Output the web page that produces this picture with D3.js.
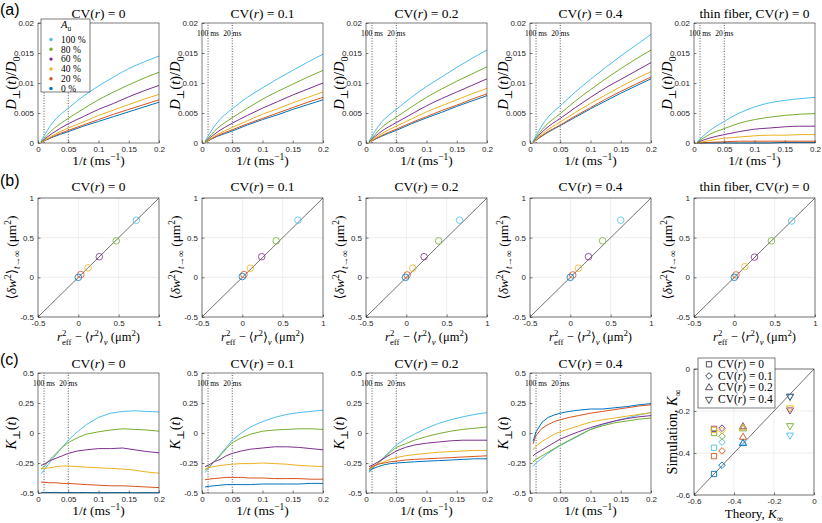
<!DOCTYPE html>
<html><head><meta charset="utf-8">
<script src="https://cdn.jsdelivr.net/npm/d3@7"></script>
<style>body{margin:0;background:#fff}svg{display:block}
.serif{font-family:"Liberation Serif","DejaVu Serif",serif;font-weight:normal}
.sans{font-family:"Liberation Sans","DejaVu Sans",sans-serif;font-weight:normal}
</style>
</head><body><script>
// ---------- data ----------
const seriesNames = ["100 %","80 %","60 %","40 %","20 %","0 %"];
const seriesColors = ["#4DBEEE","#77AC30","#7E2F8E","#EDB120","#D95319","#0072BD"];
const cvTitles = ["CV(r) = 0","CV(r) = 0.1","CV(r) = 0.2","CV(r) = 0.4","thin fiber, CV(r) = 0"];
const xTicksT = [0,0.05,0.1,0.15,0.2];
const yTicksD = [0,0.005,0.01,0.015,0.02];
const ticksB = [-0.5,0,0.5,1];
const yTicksK = [-0.5,-0.25,0,0.25,0.5];
const ticksKinf = [-0.6,-0.4,-0.2,0];
const markerTimes = [0.01,0.05];
const markerLabels = ["100 ms","20 ms"];

// (a) D_perp(t)/D0 vs 1/t
const xD = [0.005,0.025,0.05,0.075,0.1,0.125,0.15,0.175,0.2];
const dCV0 = [
  [0.0003,0.0035,0.0058,0.0078,0.0095,0.0110,0.0124,0.0135,0.0145],
  [0.0002,0.0023,0.0041,0.0057,0.0072,0.0085,0.0097,0.0108,0.0118],
  [0.0002,0.0017,0.0032,0.0044,0.0056,0.0066,0.0077,0.0087,0.0096],
  [0.0001,0.0013,0.0025,0.0035,0.0046,0.0055,0.0064,0.0073,0.0081],
  [0.0001,0.0011,0.0021,0.0030,0.0039,0.0048,0.0056,0.0064,0.0072],
  [0.0001,0.0010,0.0019,0.0028,0.0036,0.0044,0.0052,0.0060,0.0068]];
const dCV01 = [
  [0.0003,0.0034,0.0057,0.0076,0.0092,0.0107,0.0121,0.0135,0.0148],
  [0.0002,0.0024,0.0042,0.0058,0.0073,0.0086,0.0098,0.0110,0.0121],
  [0.0002,0.0018,0.0033,0.0046,0.0058,0.0069,0.0080,0.0090,0.0100],
  [0.0001,0.0014,0.0026,0.0037,0.0048,0.0057,0.0067,0.0076,0.0085],
  [0.0001,0.0012,0.0022,0.0032,0.0041,0.0050,0.0059,0.0068,0.0076],
  [0.0001,0.0011,0.0020,0.0030,0.0039,0.0047,0.0056,0.0064,0.0072]];
const dCV02 = [
  [0.0003,0.0034,0.0056,0.0076,0.0094,0.0110,0.0126,0.0141,0.0155],
  [0.0002,0.0025,0.0043,0.0060,0.0076,0.0090,0.0103,0.0115,0.0127],
  [0.0002,0.0019,0.0034,0.0048,0.0062,0.0074,0.0085,0.0096,0.0107],
  [0.0001,0.0015,0.0028,0.0040,0.0052,0.0062,0.0072,0.0082,0.0091],
  [0.0001,0.0012,0.0023,0.0034,0.0044,0.0054,0.0063,0.0073,0.0082],
  [0.0001,0.0011,0.0021,0.0032,0.0042,0.0051,0.0061,0.0070,0.0079]];
const dCV04 = [
  [0.0003,0.0037,0.0062,0.0085,0.0106,0.0126,0.0145,0.0163,0.0181],
  [0.0002,0.0028,0.0049,0.0070,0.0089,0.0107,0.0124,0.0140,0.0155],
  [0.0002,0.0023,0.0041,0.0059,0.0076,0.0092,0.0106,0.0120,0.0134],
  [0.0001,0.0019,0.0035,0.0051,0.0066,0.0080,0.0094,0.0107,0.0119],
  [0.0001,0.0016,0.0030,0.0045,0.0059,0.0073,0.0086,0.0098,0.0110],
  [0.0001,0.0015,0.0029,0.0043,0.0057,0.0070,0.0083,0.0095,0.0107]];
const dThin = [
  [0.0002,0.0020,0.0036,0.0050,0.0060,0.0067,0.0071,0.0074,0.0076],
  [0.0001,0.0014,0.0024,0.0033,0.0039,0.0043,0.0046,0.0048,0.0049],
  [0.0001,0.0008,0.0014,0.0019,0.0023,0.0025,0.0027,0.0028,0.0028],
  [0.0000,0.0004,0.0008,0.0010,0.0012,0.0013,0.0013,0.0014,0.0014],
  [0.0000,0.0001,0.0002,0.0003,0.0003,0.0003,0.0003,0.0003,0.0003],
  [0.0000,0.0000,0.0000,0.0000,0.0000,0.0000,0.0001,0.0001,0.0001]];

// (b) <dw^2> vs r_eff^2 - <r^2>_v
const bX_cv0  = [0.72,0.47,0.26,0.12,0.03,0.0];
const bY_cv0  = [0.72,0.46,0.26,0.12,0.035,0.0];
const bX_cv01 = [0.69,0.42,0.24,0.10,0.02,0.0];
const bY_cv01 = [0.72,0.46,0.26,0.115,0.035,0.01];
const bX_cv02 = [0.66,0.40,0.22,0.08,0.01,-0.01];
const bY_cv02 = [0.72,0.46,0.26,0.115,0.03,0.0];
const bX_cv04 = [0.625,0.40,0.225,0.10,0.03,0.0];
const bY_cv04 = [0.72,0.46,0.26,0.115,0.03,0.0];
const bX_thin = [0.71,0.46,0.25,0.13,0.02,0.0];
const bY_thin = [0.71,0.46,0.255,0.135,0.03,0.0];
const diagB = [-0.5,1];

// (c) K_perp(t) vs 1/t
const xK = [0.005,0.01,0.02,0.03,0.04,0.05,0.065,0.08,0.1,0.12,0.14,0.16,0.18,0.2];
const kCV0 = [
  [-0.34,-0.31,-0.24,-0.18,-0.12,-0.06,0.01,0.07,0.13,0.165,0.18,0.185,0.18,0.175],
  [-0.30,-0.28,-0.22,-0.17,-0.12,-0.08,-0.04,-0.01,0.01,0.025,0.035,0.03,0.025,0.015],
  [-0.27,-0.26,-0.23,-0.21,-0.19,-0.17,-0.15,-0.14,-0.13,-0.13,-0.125,-0.14,-0.155,-0.165],
  [-0.30,-0.295,-0.29,-0.28,-0.275,-0.275,-0.28,-0.285,-0.29,-0.295,-0.30,-0.31,-0.325,-0.335],
  [-0.41,-0.41,-0.415,-0.415,-0.42,-0.42,-0.425,-0.43,-0.435,-0.44,-0.44,-0.445,-0.45,-0.455],
  [-0.495,-0.495,-0.496,-0.495,-0.497,-0.496,-0.497,-0.496,-0.498,-0.497,-0.496,-0.498,-0.497,-0.498]];
const kCV01 = [
  [-0.33,-0.30,-0.24,-0.18,-0.12,-0.06,0.0,0.05,0.095,0.13,0.155,0.17,0.18,0.19],
  [-0.31,-0.29,-0.24,-0.19,-0.13,-0.08,-0.04,-0.01,0.015,0.025,0.03,0.035,0.035,0.03],
  [-0.28,-0.27,-0.24,-0.22,-0.19,-0.17,-0.15,-0.135,-0.125,-0.115,-0.115,-0.12,-0.13,-0.14],
  [-0.30,-0.29,-0.28,-0.27,-0.265,-0.26,-0.255,-0.255,-0.25,-0.255,-0.26,-0.27,-0.275,-0.28],
  [-0.39,-0.385,-0.38,-0.375,-0.37,-0.37,-0.37,-0.375,-0.375,-0.38,-0.38,-0.38,-0.385,-0.385],
  [-0.45,-0.445,-0.44,-0.435,-0.43,-0.43,-0.43,-0.43,-0.425,-0.425,-0.425,-0.425,-0.42,-0.42]];
const kCV02 = [
  [-0.33,-0.30,-0.25,-0.20,-0.15,-0.10,-0.05,-0.01,0.04,0.08,0.11,0.135,0.155,0.17],
  [-0.31,-0.29,-0.25,-0.21,-0.16,-0.12,-0.09,-0.06,-0.03,-0.005,0.015,0.03,0.04,0.05],
  [-0.28,-0.27,-0.24,-0.21,-0.18,-0.15,-0.12,-0.10,-0.085,-0.075,-0.065,-0.06,-0.06,-0.06],
  [-0.30,-0.285,-0.26,-0.24,-0.22,-0.205,-0.19,-0.18,-0.17,-0.16,-0.155,-0.15,-0.145,-0.145],
  [-0.30,-0.28,-0.26,-0.25,-0.24,-0.235,-0.225,-0.22,-0.215,-0.21,-0.205,-0.2,-0.195,-0.19],
  [-0.32,-0.30,-0.28,-0.265,-0.255,-0.25,-0.245,-0.24,-0.235,-0.23,-0.225,-0.22,-0.215,-0.215]];
const kCV04 = [
  [-0.28,-0.25,-0.21,-0.17,-0.135,-0.105,-0.065,-0.025,0.03,0.07,0.1,0.125,0.15,0.17],
  [-0.24,-0.22,-0.19,-0.16,-0.13,-0.1,-0.06,-0.02,0.03,0.06,0.085,0.1,0.115,0.125],
  [-0.19,-0.17,-0.14,-0.11,-0.08,-0.05,-0.02,0.01,0.045,0.075,0.1,0.12,0.135,0.145],
  [-0.14,-0.11,-0.07,-0.04,-0.01,0.01,0.035,0.06,0.09,0.11,0.125,0.14,0.155,0.17],
  [-0.09,-0.02,0.04,0.07,0.095,0.11,0.13,0.145,0.165,0.18,0.195,0.21,0.225,0.235],
  [-0.07,0.01,0.09,0.13,0.15,0.165,0.18,0.19,0.2,0.2,0.21,0.22,0.235,0.245]];

// (c, right) simulation vs theory K_inf
const cvLegend = ["CV(r) = 0","CV(r) = 0.1","CV(r) = 0.2","CV(r) = 0.4"];
const kTheory = [-0.5,-0.46,-0.355,-0.12];
const kSimCV0  = [-0.375,-0.305,-0.285,-0.29,-0.415,-0.50];
const kSimCV01 = [-0.348,-0.32,-0.282,-0.293,-0.39,-0.458];
const kSimCV02 = [-0.352,-0.285,-0.275,-0.28,-0.325,-0.355];
const kSimCV04 = [-0.315,-0.27,-0.195,-0.185,-0.13,-0.13];
const diagK = [-0.6,0];

// ---------- layout ----------
const colX = [38,202,366,530,694];
const PW = 121;
const rowA = {y:23,h:120}, rowB = {y:198,h:119}, rowC = {y:373,h:120};
const AX = "#262626";

const svg = d3.select("body").append("svg").attr("width",822).attr("height",523)
  .style("background","#fff");

function rich(sel, parts, fs){
  let cur = 0;
  parts.forEach(p=>{
    const tgt = p.sub ? fs*0.3 : (p.sup ? -fs*0.38 : 0);
    const ts = sel.append("tspan").text(p.t);
    if (tgt !== cur) ts.attr("dy", tgt-cur);
    if (p.dx) ts.attr("dx", p.dx);
    if (p.sub||p.sup) ts.style("font-size", (fs*0.7)+"px");
    if (p.i) ts.style("font-style","italic");
    cur = tgt;
  });
}
function titleParts(s){
  const [pre,post] = s.split("(r)");
  return [{t:pre+"("},{t:"r",i:true},{t:")"+post}];
}
const fmt = d => String(Math.round(d*1e4)/1e4);

function serifText(parent, fs){
  return parent.append("text").attr("class","serif").style("font-size",fs+"px").attr("fill","#000");
}

function axes(g, xs, ys, xt, yt){
  const xa = d3.axisBottom(xs).tickValues(xt).tickSizeInner(-2.5).tickSizeOuter(0).tickPadding(3.5).tickFormat(fmt);
  const ya = d3.axisLeft(ys).tickValues(yt).tickSizeInner(-2.5).tickSizeOuter(0).tickPadding(4).tickFormat(fmt);
  const gx = g.append("g").attr("transform",`translate(0,${ys.range()[0]})`).call(xa);
  const gy = g.append("g").attr("transform",`translate(${xs.range()[0]},0)`).call(ya);
  [gx,gy].forEach(a=>{
    a.attr("font-family",null).attr("font-size",null);
    a.select(".domain").remove();
    a.selectAll("line").attr("stroke",AX).attr("stroke-width",0.6);
    a.selectAll("text").attr("fill",AX).attr("class","sans").style("font-size","8px");
  });
  g.append("rect").attr("x",xs.range()[0]).attr("y",ys.range()[1])
    .attr("width",xs.range()[1]-xs.range()[0]).attr("height",ys.range()[0]-ys.range()[1])
    .attr("fill","none").attr("stroke",AX).attr("stroke-width",0.6);
}
function title(x, y, s){
  const t = serifText(svg,13.5).attr("x",x).attr("y",y).attr("text-anchor","middle");
  rich(t, titleParts(s), 13.5);
}
function ylabel(x, y, parts, fs){
  const t = serifText(svg,fs).attr("transform",`translate(${x},${y}) rotate(-90)`).attr("text-anchor","middle");
  rich(t, parts, fs);
}
function xlabel(x, y, parts, fs){
  const t = serifText(svg,fs).attr("x",x).attr("y",y).attr("text-anchor","middle");
  rich(t, parts, fs);
}
function timeMarkers(g, xs, ys, withLabels){
  markerTimes.forEach((mt,i)=>{
    g.append("line").attr("x1",xs(mt)).attr("x2",xs(mt)).attr("y1",ys.range()[0]).attr("y2",ys.range()[1])
      .attr("stroke",AX).attr("stroke-width",0.8).attr("stroke-dasharray","1,1.6");
    if (withLabels)
      serifText(g,7.5).attr("x",xs(mt)).attr("y",ys.range()[1]+13).attr("text-anchor","middle").text(markerLabels[i]);
  });
}
const xLabelT = [{t:"1/"},{t:"t",i:true},{t:" (ms"},{t:"−1",sup:true},{t:")"}];

// panel letters
[["(a)",15],["(b)",186],["(c)",365]].forEach(([s,y])=>{
  svg.append("text").attr("class","sans").attr("x",0).attr("y",y).style("font-size","16px").text(s);
});

// ---------- row (a) ----------
const dPanels = [dCV0,dCV01,dCV02,dCV04,dThin];
dPanels.forEach((panel,pi)=>{
  const g = svg.append("g");
  const xs = d3.scaleLinear().domain([0,0.2]).range([colX[pi],colX[pi]+PW]);
  const ys = d3.scaleLinear().domain([0,0.02]).range([rowA.y+rowA.h,rowA.y]);
  timeMarkers(g,xs,ys,pi>0);
  const line = d3.line().x((d,i)=>xs(xD[i])).y(d=>ys(d)).curve(d3.curveMonotoneX);
  panel.slice().reverse().forEach((s,ri)=>{
    const si = panel.length-1-ri;
    g.append("path").attr("d",line(s)).attr("fill","none").attr("stroke",seriesColors[si]).attr("stroke-width",1);
  });
  axes(g,xs,ys,xTicksT,yTicksD);
  title(colX[pi]+PW/2,17.5,cvTitles[pi]);
  ylabel(colX[pi]-22,rowA.y+rowA.h/2,[{t:"D",i:true},{t:"⊥",sub:true},{t:"("},{t:"t",i:true},{t:")/"},{t:"D",i:true},{t:"0",sub:true}],14.5);
  xlabel(colX[pi]+PW/2,rowA.y+rowA.h+22,xLabelT,13.5);
});
// legend in (a) first panel
{
  const lg = svg.append("g");
  lg.append("rect").attr("x",41).attr("y",19).attr("width",49).attr("height",73)
    .attr("fill","#fff").attr("stroke",AX).attr("stroke-width",0.6);
  const t = serifText(lg,10.5).attr("x",66).attr("y",27.5).attr("text-anchor","middle");
  rich(t,[{t:"A",i:true},{t:"u",sub:true}],10.5);
  seriesNames.forEach((n,i)=>{
    const y = 39.5 + i*9.8;
    lg.append("circle").attr("cx",51).attr("cy",y).attr("r",1.7).attr("fill",seriesColors[i]);
    serifText(lg,9.5).attr("x",61).attr("y",y+3.2).text(n);
  });
}

// ---------- row (b) ----------
const bXs = [bX_cv0,bX_cv01,bX_cv02,bX_cv04,bX_thin];
const bYs = [bY_cv0,bY_cv01,bY_cv02,bY_cv04,bY_thin];
bXs.forEach((bx,pi)=>{
  const g = svg.append("g");
  const xs = d3.scaleLinear().domain([-0.5,1]).range([colX[pi],colX[pi]+PW]);
  const ys = d3.scaleLinear().domain([-0.5,1]).range([rowB.y+rowB.h,rowB.y]);
  ticksB.forEach(v=>{
    g.append("line").attr("x1",xs(v)).attr("x2",xs(v)).attr("y1",ys(-0.5)).attr("y2",ys(1)).attr("stroke","#e3e3e3").attr("stroke-width",0.6);
    g.append("line").attr("y1",ys(v)).attr("y2",ys(v)).attr("x1",xs(-0.5)).attr("x2",xs(1)).attr("stroke","#e3e3e3").attr("stroke-width",0.6);
  });
  g.append("line").attr("x1",xs(diagB[0])).attr("y1",ys(diagB[0])).attr("x2",xs(diagB[1])).attr("y2",ys(diagB[1]))
    .attr("stroke","#333").attr("stroke-width",0.7);
  bx.forEach((v,i)=>{
    g.append("circle").attr("cx",xs(v)).attr("cy",ys(bYs[pi][i])).attr("r",3.3)
      .attr("fill","none").attr("stroke",seriesColors[i]).attr("stroke-width",0.8);
  });
  axes(g,xs,ys,ticksB,ticksB);
  title(colX[pi]+PW/2,190.5,cvTitles[pi]);
  ylabel(colX[pi]-22,rowB.y+rowB.h/2,[{t:"⟨"},{t:"δw",i:true},{t:"2",sup:true},{t:"⟩"},{t:"t",i:true,sub:true},{t:"→∞",sub:true},{t:" (μm"},{t:"2",sup:true},{t:")"}],13.5);
  xlabel(colX[pi]+PW/2,rowB.y+rowB.h+24,[{t:"r",i:true},{t:"2",sup:true},{t:"eff",sub:true,dx:-4.3},{t:" − ⟨"},{t:"r",i:true},{t:"2",sup:true},{t:"⟩"},{t:"v",sub:true,i:true},{t:" (μm"},{t:"2",sup:true},{t:")"}],12.5);
});

// ---------- row (c) ----------
const kPanels = [kCV0,kCV01,kCV02,kCV04];
kPanels.forEach((panel,pi)=>{
  const g = svg.append("g");
  const xs = d3.scaleLinear().domain([0,0.2]).range([colX[pi],colX[pi]+PW]);
  const ys = d3.scaleLinear().domain([-0.5,0.5]).range([rowC.y+rowC.h,rowC.y]);
  timeMarkers(g,xs,ys,true);
  const line = d3.line().x((d,i)=>xs(xK[i])).y(d=>ys(d));
  panel.forEach((s,si)=>{
    g.append("path").attr("d",line(s)).attr("fill","none").attr("stroke",seriesColors[si]).attr("stroke-width",1);
  });
  axes(g,xs,ys,xTicksT,yTicksK);
  title(colX[pi]+PW/2,367.5,cvTitles[pi]);
  ylabel(colX[pi]-22,rowC.y+rowC.h/2,[{t:"K",i:true},{t:"⊥",sub:true},{t:"("},{t:"t",i:true},{t:")"}],14.5);
  xlabel(colX[pi]+PW/2,rowC.y+rowC.h+22,xLabelT,13.5);
});

// ---------- (c) right: simulation vs theory ----------
{
  const g = svg.append("g");
  const xs = d3.scaleLinear().domain([-0.6,0]).range([694,814]);
  const ys = d3.scaleLinear().domain([-0.6,0]).range([495,369]);
  ticksKinf.forEach(v=>{
    g.append("line").attr("x1",xs(v)).attr("x2",xs(v)).attr("y1",ys(-0.6)).attr("y2",ys(0)).attr("stroke","#e3e3e3").attr("stroke-width",0.6);
    g.append("line").attr("y1",ys(v)).attr("y2",ys(v)).attr("x1",xs(-0.6)).attr("x2",xs(0)).attr("stroke","#e3e3e3").attr("stroke-width",0.6);
  });
  g.append("line").attr("x1",xs(diagK[0])).attr("y1",ys(diagK[0])).attr("x2",xs(diagK[1])).attr("y2",ys(diagK[1]))
    .attr("stroke","#333").attr("stroke-width",0.7);
  const shapes = [
    {type:d3.symbolSquare,size:28,rot:0},
    {type:d3.symbolSquare,size:22,rot:45},
    {type:d3.symbolTriangle,size:22,rot:0},
    {type:d3.symbolTriangle,size:22,rot:180}];
  const sims = [kSimCV0,kSimCV01,kSimCV02,kSimCV04];
  sims.forEach((arr,ci)=>{
    const sh = shapes[ci];
    arr.forEach((v,i)=>{
      g.append("path").attr("d",d3.symbol().type(sh.type).size(sh.size)())
        .attr("transform",`translate(${xs(kTheory[ci])},${ys(v)}) rotate(${sh.rot})`)
        .attr("fill","none").attr("stroke",seriesColors[i]).attr("stroke-width",0.9);
    });
  });
  axes(g,xs,ys,ticksKinf,ticksKinf);
  // legend
  const lg = svg.append("g");
  lg.append("rect").attr("x",698).attr("y",358).attr("width",77).attr("height",50)
    .attr("fill","#fff").attr("stroke",AX).attr("stroke-width",0.6);
  cvLegend.forEach((s,i)=>{
    const y = 364.3 + i*11.7;
    const sh = shapes[i];
    lg.append("path").attr("d",d3.symbol().type(sh.type).size(sh.size)())
      .attr("transform",`translate(709,${y}) rotate(${sh.rot})`)
      .attr("fill","none").attr("stroke",AX).attr("stroke-width",0.8);
    const t = serifText(lg,11.5).attr("x",718).attr("y",y+3.5);
    rich(t,titleParts(s),11.5);
  });
  ylabel(677,432,[{t:"Simulation, "},{t:"K",i:true},{t:"∞",sub:true}],14);
  xlabel(754,518,[{t:"Theory, "},{t:"K",i:true},{t:"∞",sub:true}],13);
}
</script></body></html>
